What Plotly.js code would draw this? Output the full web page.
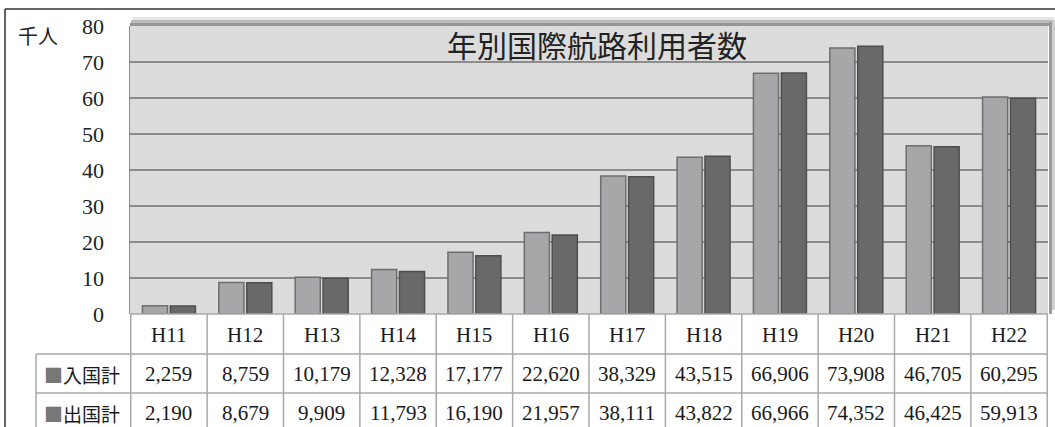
<!DOCTYPE html>
<html>
<head>
<meta charset="utf-8">
<script src="https://cdn.plot.ly/plotly-3.0.1.min.js"></script>
<style>html,body{margin:0;padding:0;background:#fff;}#chart{width:1055px;height:427px;}</style>
</head>
<body>
<div id="chart"></div>
<script>
// ---- data ----
const categories = ['H11','H12','H13','H14','H15','H16','H17','H18','H19','H20','H21','H22'];
const entryTotals = [2259, 8759, 10179, 12328, 17177, 22620, 38329, 43515, 66906, 73908, 46705, 60295];
const exitTotals  = [2190, 8679, 9909, 11793, 16190, 21957, 38111, 43822, 66966, 74352, 46425, 59913];
const seriesNames = ['入国計', '出国計'];
const yTickValues = [0, 10, 20, 30, 40, 50, 60, 70, 80];
const chartTitle = '年別国際航路利用者数';
const unitLabel = '千人';

// ---- geometry helpers (pixels -> paper) ----
const L = 130, R = 1048, T = 26, B = 314;
const W = 1055, H = 427;
const px = x => (x - L) / (R - L);
const py = y => (B - y) / (B - T);
const fmt = n => String(n).replace(/\B(?=(\d{3})+(?!\d))/g, ',');

const serif = 'Liberation Serif, Times New Roman, serif';
const cjk = 'Noto Sans CJK JP, sans-serif';

const traces = [
  {type:'bar', name:seriesNames[0], x:categories, y:entryTotals.map(v=>v/1000),
   marker:{color:'#a7a7a9', line:{color:'#6e6e6e', width:1.5}}, hoverinfo:'skip'},
  {type:'bar', name:seriesNames[1], x:categories, y:exitTotals.map(v=>v/1000),
   marker:{color:'#696969', line:{color:'#4e4e4e', width:1.5}}, hoverinfo:'skip'}
];

const shapes = [];
const annotations = [];
const lineStyle = {color:'#a9a9a9', width:1.5};

// shadow around plot area
shapes.push({type:'rect', xref:'paper', yref:'paper', x0:px(133), x1:px(1054), y0:py(17), y1:py(20), fillcolor:'#e4e4e4', line:{width:0}, layer:'below'});
shapes.push({type:'rect', xref:'paper', yref:'paper', x0:px(131), x1:px(1054), y0:py(20), y1:py(23), fillcolor:'#bcbcbc', line:{width:0}, layer:'below'});
shapes.push({type:'rect', xref:'paper', yref:'paper', x0:px(130), x1:px(1052), y0:py(23), y1:py(26), fillcolor:'#969696', line:{width:0}, layer:'below'});
shapes.push({type:'rect', xref:'paper', yref:'paper', x0:px(1049), x1:px(1052), y0:py(22), y1:py(314), fillcolor:'#9a9a9a', line:{width:0}, layer:'below'});
shapes.push({type:'rect', xref:'paper', yref:'paper', x0:px(1052), x1:px(1055), y0:py(20), y1:py(310), fillcolor:'#cfcfcf', line:{width:0}, layer:'below'});

// outer frame (top and left)
shapes.push({type:'line', xref:'paper', yref:'paper', x0:px(5), x1:px(1055), y0:py(9), y1:py(9), line:{color:'#333', width:1.5}});
shapes.push({type:'line', xref:'paper', yref:'paper', x0:px(5), x1:px(5), y0:py(9), y1:py(427), line:{color:'#333', width:1.5}});

// table grid
const rowTops = [314, 354, 393, 432];
shapes.push({type:'line', xref:'paper', yref:'paper', x0:px(130), x1:px(1048), y0:py(314), y1:py(314), line:lineStyle});
shapes.push({type:'line', xref:'paper', yref:'paper', x0:px(36), x1:px(1048), y0:py(354), y1:py(354), line:lineStyle});
shapes.push({type:'line', xref:'paper', yref:'paper', x0:px(36), x1:px(1048), y0:py(393), y1:py(393), line:lineStyle});
shapes.push({type:'line', xref:'paper', yref:'paper', x0:px(36), x1:px(36), y0:py(354), y1:py(432), line:lineStyle});
for (let i = 0; i <= categories.length; i++) {
  shapes.push({type:'line', xref:'x', yref:'paper', x0:i-0.5, x1:i-0.5, y0:py(314), y1:py(432), line:lineStyle});
}

// table texts
categories.forEach((c, i) => {
  annotations.push({xref:'x', yref:'paper', x:c, y:py(335), text:c, showarrow:false, font:{family:serif, size:21, color:'#1a1a1a'}, xanchor:'center', yanchor:'middle'});
  annotations.push({xref:'x', yref:'paper', x:c, y:py(374), text:fmt(entryTotals[i]), showarrow:false, font:{family:serif, size:21, color:'#1a1a1a'}, xanchor:'center', yanchor:'middle'});
  annotations.push({xref:'x', yref:'paper', x:c, y:py(413), text:fmt(exitTotals[i]), showarrow:false, font:{family:serif, size:21, color:'#1a1a1a'}, xanchor:'center', yanchor:'middle'});
});
annotations.push({xref:'paper', yref:'paper', x:px(42), y:py(374), text:'<span style="color:#777">■</span>'+seriesNames[0], showarrow:false, font:{family:cjk, size:19, color:'#1a1a1a'}, xanchor:'left', yanchor:'middle'});
annotations.push({xref:'paper', yref:'paper', x:px(42), y:py(413), text:'<span style="color:#777">■</span>'+seriesNames[1], showarrow:false, font:{family:cjk, size:19, color:'#1a1a1a'}, xanchor:'left', yanchor:'middle'});

// title and unit
annotations.push({xref:'paper', yref:'paper', x:px(597), y:py(44), text:chartTitle, showarrow:false, font:{family:cjk, size:30, color:'#222'}, xanchor:'center', yanchor:'middle'});
annotations.push({xref:'paper', yref:'paper', x:px(16), y:py(35), text:unitLabel, showarrow:false, font:{family:cjk, size:20, color:'#222'}, xanchor:'left', yanchor:'middle'});

const layout = {
  width: W, height: H,
  margin: {l:L, r:W-R, t:T, b:H-B, pad:0},
  paper_bgcolor:'#ffffff', plot_bgcolor:'#dcdcdc',
  showlegend:false,
  barmode:'group', bargap:0.27, bargroupgap:0.1,
  xaxis:{type:'category', showticklabels:false, ticks:'', showgrid:false, zeroline:false, showline:false, fixedrange:true},
  yaxis:{range:[0,80], tickvals:yTickValues, ticktext:yTickValues.map(String),
    showgrid:true, gridcolor:'#8c8c8c', gridwidth:1.5, zeroline:false,
    showline:true, linecolor:'#8c8c8c', linewidth:1.5,
    ticks:'outside', ticklen:20, tickcolor:'rgba(0,0,0,0)',
    tickfont:{family:serif, size:22, color:'#222'}, fixedrange:true},
  shapes: shapes,
  annotations: annotations,
  font:{family:serif}
};

Plotly.newPlot('chart', traces, layout, {staticPlot:true, displayModeBar:false});
</script>
</body>
</html>
